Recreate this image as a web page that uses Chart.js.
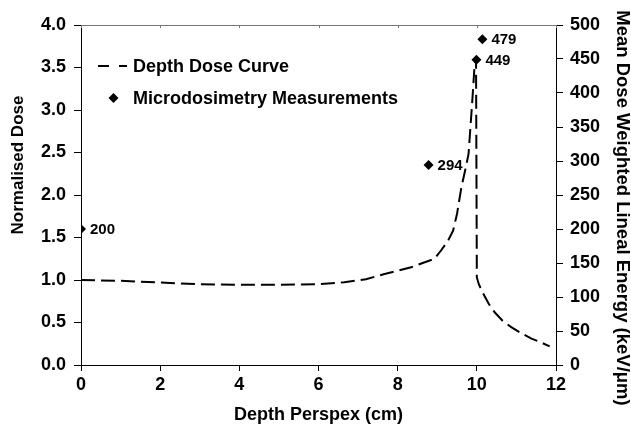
<!DOCTYPE html>
<html>
<head>
<meta charset="utf-8">
<script src="https://cdn.jsdelivr.net/npm/chart.js@4.4.1/dist/chart.umd.min.js"></script>
<style>
  html, body { margin: 0; padding: 0; background: #fff; }
  #wrap { width: 631px; height: 430px; }
</style>
</head>
<body>
<div id="wrap"><canvas id="c" width="631" height="430"></canvas></div>
<script>
// Depth dose curve (x in cm, normalised dose)
const depthX = [0, 1, 2, 3, 4, 5, 6, 6.65, 7.2, 7.67, 8.34, 8.93, 9.1, 9.27, 9.4, 9.5, 9.61, 9.7, 9.79, 9.88, 9.94, 9.98, 10.0, 10.05, 10.16, 10.3, 10.45, 10.65, 10.87, 11.1, 11.38, 11.6, 11.84];
const doseY  = [1.0, 0.99, 0.97, 0.95, 0.945, 0.945, 0.95, 0.974, 1.01, 1.07, 1.15, 1.25, 1.35, 1.46, 1.58, 1.78, 2.09, 2.28, 2.48, 3.07, 3.5, 3.6, 1.03, 0.95, 0.84, 0.72, 0.62, 0.52, 0.445, 0.38, 0.31, 0.27, 0.22];

// Microdosimetry measurements (x in cm, keV/um)
const measX = [0, 8.78, 9.99, 10.14];
const measY = [200, 294, 449, 479];
const measLabels = ['200', '294', '449', '479'];

const xTicks = [0, 2, 4, 6, 8, 10, 12];
const yLeftTitle = 'Normalised Dose';
const yRightTitle = 'Mean Dose Weighted Lineal Energy (keV/μm)';

const FONT = '"Liberation Sans", Arial, sans-serif';

const extras = {
  id: 'extras',
  afterDraw(chart) {
    const ctx = chart.ctx;
    const area = chart.chartArea;
    const xs = chart.scales.x;
    ctx.save();
    // top border
    ctx.strokeStyle = '#777';
    ctx.lineWidth = 1;
    ctx.beginPath();
    ctx.moveTo(area.left, area.top + 0.5);
    ctx.lineTo(area.right, area.top + 0.5);
    ctx.stroke();
    xTicks.forEach(v => {
      const px = Math.round(xs.getPixelForValue(v)) + 0.5;
      ctx.beginPath();
      ctx.moveTo(px, area.top);
      ctx.lineTo(px, area.top + 3);
      ctx.stroke();
    });
    // data labels
    const meta = chart.getDatasetMeta(1);
    ctx.fillStyle = '#000';
    ctx.font = 'bold 15px ' + FONT;
    ctx.textAlign = 'left';
    ctx.textBaseline = 'middle';
    meta.data.forEach((pt, i) => {
      ctx.fillText(measLabels[i], pt.x + 9, pt.y + 1);
    });
    // legend
    const lx = area.left;
    ctx.strokeStyle = '#000';
    ctx.lineWidth = 2;
    ctx.beginPath();
    ctx.moveTo(lx + 17, 66); ctx.lineTo(lx + 28, 66);
    ctx.moveTo(lx + 38, 66); ctx.lineTo(lx + 46, 66);
    ctx.stroke();
    ctx.font = 'bold 18px ' + FONT;
    ctx.fillText(chart.data.datasets[0].label, lx + 52, 67);
    const dx = lx + 32.5, dy = 98;
    ctx.beginPath();
    ctx.moveTo(dx, dy - 5); ctx.lineTo(dx + 5, dy); ctx.lineTo(dx, dy + 5); ctx.lineTo(dx - 5, dy);
    ctx.closePath();
    ctx.fill();
    ctx.fillText(chart.data.datasets[1].label, lx + 52, 99);
    // axis titles
    ctx.textAlign = 'center';
    ctx.font = 'bold 17px ' + FONT;
    ctx.save();
    ctx.translate(18, 165);
    ctx.rotate(-Math.PI / 2);
    ctx.fillText(yLeftTitle, 0, 0);
    ctx.restore();
    ctx.font = 'bold 18.5px ' + FONT;
    ctx.save();
    ctx.translate(622, 208);
    ctx.rotate(Math.PI / 2);
    ctx.fillText(yRightTitle, 0, 0);
    ctx.restore();
    ctx.restore();
  }
};

new Chart(document.getElementById('c'), {
  type: 'scatter',
  data: {
    datasets: [
      {
        type: 'line',
        label: 'Depth Dose Curve',
        data: depthX.map((x, i) => ({ x: x, y: doseY[i] })),
        yAxisID: 'y',
        borderColor: '#000',
        borderWidth: 2,
        borderDash: [14, 6],
        pointRadius: 0,
        tension: 0,
        fill: false
      },
      {
        label: 'Microdosimetry Measurements',
        data: measX.map((x, i) => ({ x: x, y: measY[i] })),
        yAxisID: 'y2',
        pointStyle: 'rectRot',
        pointRadius: 5,
        backgroundColor: '#000',
        borderColor: '#000',
        borderWidth: 0
      }
    ]
  },
  options: {
    responsive: false,
    animation: false,
    devicePixelRatio: 1,
    layout: { padding: { top: 25, left: 0, right: 0, bottom: 0 } },
    plugins: { legend: { display: false }, tooltip: { enabled: false } },
    scales: {
      x: {
        type: 'linear',
        min: 0, max: 12,
        afterBuildTicks: s => { s.ticks = xTicks.map(v => ({ value: v })); },
        afterFit: s => { s.height = 65; },
        grid: { drawOnChartArea: false, drawTicks: true, tickLength: 6, color: '#000' },
        border: { color: '#000', width: 1 },
        ticks: { color: '#000', font: { family: FONT, size: 18, weight: 'bold' }, padding: 3, maxRotation: 0 },
        title: { display: true, text: 'Depth Perspex (cm)', color: '#000', font: { family: FONT, size: 18, weight: 'bold', lineHeight: 1 }, padding: { top: 0, bottom: 6 } }
      },
      y: {
        position: 'left',
        min: 0, max: 4,
        ticks: { stepSize: 0.5, color: '#000', font: { family: FONT, size: 18, weight: 'bold' }, padding: 8, callback: v => Number(v).toFixed(1) },
        afterFit: s => { s.width = 81; },
        grid: { drawOnChartArea: false, drawTicks: true, tickLength: 7, color: '#000' },
        border: { color: '#000', width: 1 },
        title: { display: false }
      },
      y2: {
        position: 'right',
        min: 0, max: 500,
        ticks: { stepSize: 50, color: '#000', font: { family: FONT, size: 18, weight: 'bold' }, padding: 7 },
        afterFit: s => { s.width = 75; },
        grid: { drawOnChartArea: false, drawTicks: true, tickLength: 7, color: '#000' },
        border: { color: '#000', width: 1 },
        title: { display: false }
      }
    }
  },
  plugins: [extras]
});
</script>
</body>
</html>
